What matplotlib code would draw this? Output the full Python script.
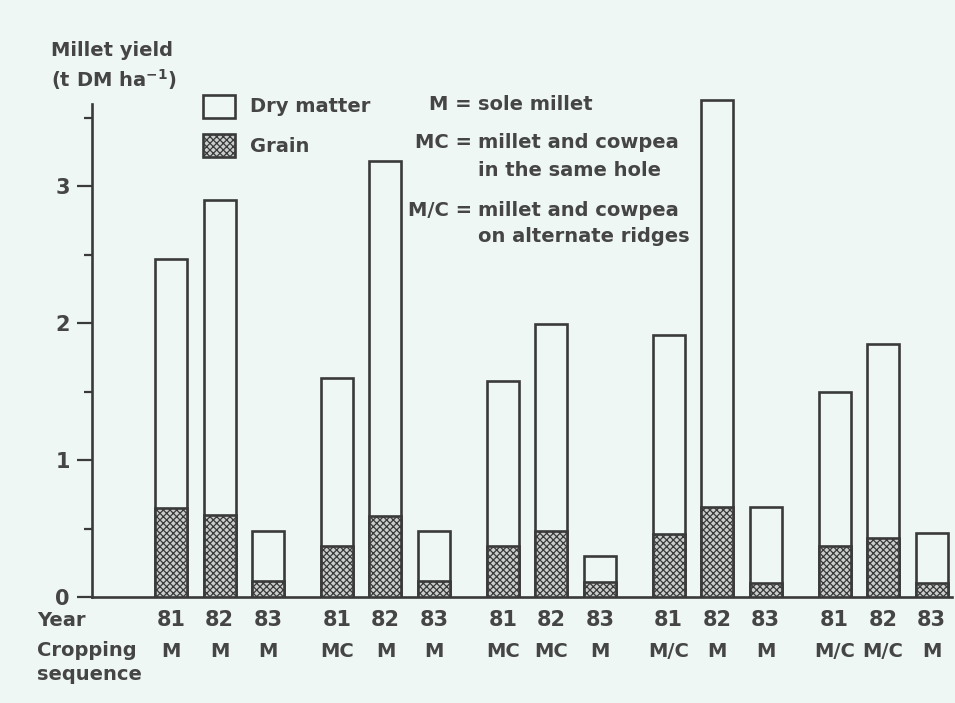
import matplotlib
matplotlib.use('Agg')
from matplotlib import pyplot as plt
from matplotlib.patches import Rectangle
import numpy as np

'''
DATA: millet yield by year and cropping sequence (t DM / ha)
'''
years = ['81', '82', '83'] * 5
sequences = ['M', 'M', 'M',
             'MC', 'M', 'M',
             'MC', 'MC', 'M',
             'M/C', 'M', 'M',
             'M/C', 'M/C', 'M']
dry_matter = [2.47, 2.90, 0.48,
              1.60, 3.18, 0.48,
              1.58, 1.99, 0.30,
              1.91, 3.63, 0.66,
              1.50, 1.85, 0.47]
grain = [0.65, 0.60, 0.12,
         0.37, 0.59, 0.12,
         0.37, 0.48, 0.11,
         0.46, 0.66, 0.10,
         0.37, 0.43, 0.10]

BG = '#eef7f3'
INK = '#3a3a3a'
TXT = '#454545'
GRAIN_FACE = '#c9cdcb'
FS = 14

plt.rcParams['hatch.linewidth'] = 0.9
plt.rcParams['font.family'] = ['DejaVu Sans']
plt.rcParams['font.weight'] = 'bold'

W, H = 955, 703


def fx(px):
    return px / W


def fy(py):
    return 1 - py / H


def label(fig, px, py, s, ha='left', size=FS):
    fig.text(fx(px), fy(py), s, ha=ha, va='center', fontsize=size, color=TXT)


def plot_stuff():
    fig = plt.figure(figsize=(W / 100, H / 100), dpi=100, facecolor=BG)

    # axes placed so that y=0 sits on the baseline and one unit ~137 px
    ymax = 3.7
    ax = fig.add_axes([fx(92), fy(597), fx(860), 137 * ymax / H])
    ax.set_facecolor(BG)

    # three years per site, wider gap between the five sites
    pos = np.array([g * 3.42 + j for g in range(5) for j in range(3)])
    width = 0.66

    ax.bar(pos, dry_matter, width=width, facecolor=BG, edgecolor=INK,
           linewidth=1.9, zorder=2)
    ax.bar(pos, grain, width=width, facecolor=GRAIN_FACE, edgecolor=INK,
           hatch='xxxxx', linewidth=1.9, zorder=3)

    ax.set_xlim(-1.63, 16.1)
    ax.set_ylim(0, ymax)

    for side in ['top', 'right']:
        ax.spines[side].set_visible(False)
    ax.spines['left'].set_bounds(0, 3.6)
    for side in ['left', 'bottom']:
        ax.spines[side].set_color(INK)
        ax.spines[side].set_linewidth(1.9)

    ax.set_yticks([0, 1, 2, 3])
    ax.set_yticks([0.5, 1.5, 2.5, 3.5], minor=True)
    ax.tick_params(axis='y', which='major', length=11, width=1.6,
                   color=INK, labelcolor=TXT, labelsize=FS + 1, pad=5)
    ax.tick_params(axis='y', which='minor', length=6, width=1.6, color=INK)

    ax.set_xticks([])
    trans = ax.get_xaxis_transform()
    for p, yr, seq in zip(pos, years, sequences):
        ax.text(p, -0.045, yr, transform=trans, ha='center', va='center',
                fontsize=FS + 1, color=TXT)
        ax.text(p, -0.108, seq, transform=trans, ha='center', va='center',
                fontsize=FS, color=TXT)

    # row labels under the axis
    label(fig, 37, 620, 'Year')
    label(fig, 37, 650, 'Cropping')
    label(fig, 37, 675, 'sequence')

    # y axis title
    label(fig, 51, 50, 'Millet yield')
    label(fig, 51, 80, r'(t DM ha$^{\mathbf{-1}}$)')

    # legend boxes
    fig.add_artist(Rectangle((fx(203), fy(118)), fx(32), 23 / H, transform=fig.transFigure,
                             facecolor=BG, edgecolor=INK, linewidth=1.9))
    fig.add_artist(Rectangle((fx(203), fy(157)), fx(32), 23 / H, transform=fig.transFigure,
                             facecolor=GRAIN_FACE, edgecolor=INK, hatch='xxxxx', linewidth=1.9))
    label(fig, 250, 107, 'Dry matter')
    label(fig, 250, 146, 'Grain')

    # key to the cropping sequence codes
    key = [('M =', 'sole millet', 105),
           ('MC =', 'millet and cowpea', 142),
           ('', 'in the same hole', 170),
           ('M/C =', 'millet and cowpea', 210),
           ('', 'on alternate ridges', 237)]
    for code, desc, py in key:
        if code:
            label(fig, 472, py, code, ha='right')
        label(fig, 478, py, desc)

    fig.savefig('out.png', dpi=100, facecolor=BG)


if __name__ == '__main__':
    plot_stuff()
